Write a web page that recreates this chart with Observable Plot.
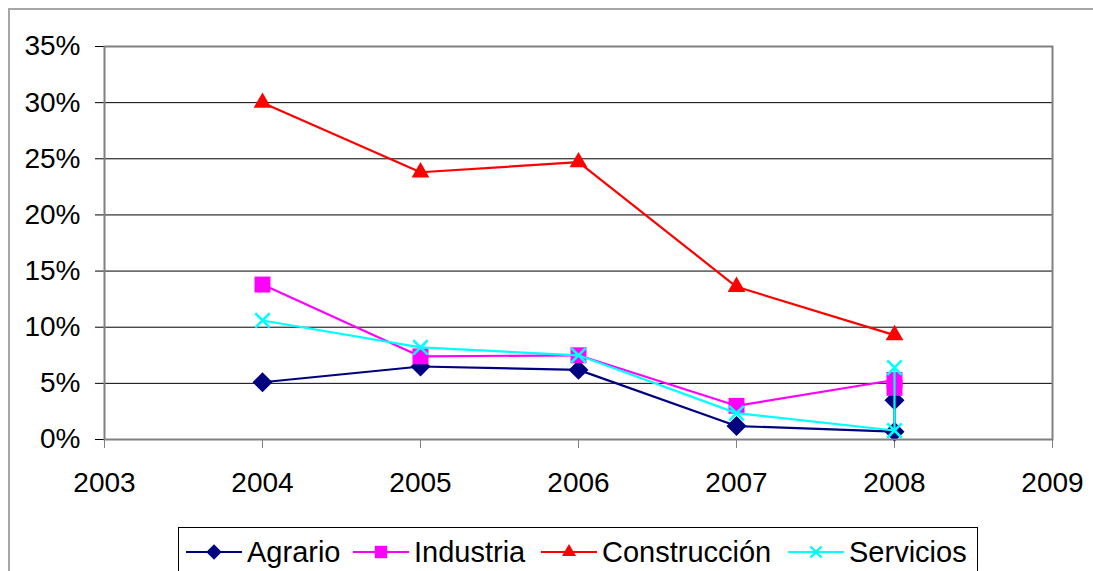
<!DOCTYPE html>
<html><head><meta charset="utf-8">
<script src="https://cdn.jsdelivr.net/npm/d3@7"></script>
<script src="https://cdn.jsdelivr.net/npm/@observablehq/plot@0.6"></script>
<style>
body{margin:0;width:1093px;height:571px;overflow:hidden;background:#fff;font-family:"Liberation Sans",Arial,sans-serif;}
#wrap{position:relative;width:1093px;height:571px;overflow:hidden;}
#frame{position:absolute;left:8px;top:8px;width:1200px;height:620px;border:2px solid #a6a6a6;box-sizing:border-box;}
#chart{position:absolute;left:0;top:0;}
#legend{position:absolute;left:178px;top:527px;width:800px;height:60px;border:1px solid #000;box-sizing:border-box;background:#fff;}
.item{position:absolute;top:8px;height:32px;display:flex;align-items:center;font-size:29px;color:#000;white-space:nowrap;}
.item svg{margin-right:5px;}
</style></head>
<body><div id="wrap"><div id="frame"></div><div id="chart"></div><div id="legend"></div></div>
<script>
// ---- data ----
const years = [2004, 2005, 2006, 2007, 2008, 2008];
const agrario = [5.1, 6.5, 6.2, 1.2, 0.7, 3.5];
const industria = [13.8, 7.4, 7.5, 3.0, 5.3, 4.6];
const construccion = [30.0, 23.8, 24.7, 13.6, 9.3];
const servicios = [10.6, 8.2, 7.5, 2.35, 0.8, 6.4];
const seriesNames = ["Agrario", "Industria", "Construcción", "Servicios"];
const xTicks = [2003, 2004, 2005, 2006, 2007, 2008, 2009];
const yTicks = [0, 5, 10, 15, 20, 25, 30, 35];
const gridTicks = [5, 10, 15, 20, 25, 30];

const seriesValues = [agrario, industria, construccion, servicios];
const styles = [
  {color:"#000080", symbol:"diamond2", r:9, lr:7, filled:true},
  {color:"#ff00ff", symbol:"square", r:9, lr:7, filled:true},
  {color:"#ff0000", symbol:"triangle", r:6.6, lr:5.2, filled:true},
  {color:"#00ffff", symbol:"times", r:6.6, lr:5.2, filled:false}
];
const rows = seriesNames.map((name, i) => seriesValues[i].map((v, j) => ({series:name, year:years[j], value:v})));

const marks = [
  Plot.ruleY(gridTicks, {y: d => d, stroke:"#000", strokeWidth:1}),
  Plot.axisY({ticks:yTicks, tickFormat:d => d + "%", tickSize:9, tickPadding:15, stroke:"#000", fontSize:28, label:null}),
  Plot.axisX({ticks:xTicks, tickFormat:d => String(d), tickSize:9, tickPadding:24, stroke:"#808080", fontSize:28, label:null})
];
rows.forEach((data, i) => {
  const s = styles[i];
  marks.push(Plot.line(data, {x:"year", y:"value", stroke:s.color, strokeWidth:2.2}));
  marks.push(Plot.dot(data, s.filled
    ? {x:"year", y:"value", symbol:s.symbol, r:s.r, fill:s.color, stroke:"none"}
    : {x:"year", y:"value", symbol:s.symbol, r:s.r, fill:"none", stroke:s.color, strokeWidth:2.6}));
});
marks.push(Plot.frame({stroke:"#808080", strokeWidth:2}));

const chart = Plot.plot({
  width:1093, height:520,
  marginLeft:104, marginRight:41, marginTop:46, marginBottom:81,
  x:{domain:[2003, 2009]},
  y:{domain:[0, 35]},
  style:{fontFamily:'"Liberation Sans", Arial, sans-serif', background:"transparent", overflow:"visible", color:"#000"},
  marks
});
document.getElementById("chart").appendChild(chart);

// ---- legend ----
const legend = document.getElementById("legend");
const lefts = [7, 174, 362, 609];
seriesNames.forEach((name, i) => {
  const s = styles[i];
  const item = document.createElement("div");
  item.className = "item";
  item.style.left = lefts[i] + "px";
  const svg = d3.create("svg").attr("width", 56).attr("height", 24);
  svg.append("line").attr("x1", 0).attr("x2", 56).attr("y1", 12).attr("y2", 12).attr("stroke", s.color).attr("stroke-width", 2.2);
  const sym = {diamond2:d3.symbolDiamond2, square:d3.symbolSquare, triangle:d3.symbolTriangle, times:d3.symbolTimes}[s.symbol];
  svg.append("path").attr("transform", "translate(28,12)")
    .attr("d", d3.symbol(sym, Math.PI * s.lr * s.lr)())
    .attr("fill", s.filled ? s.color : "none")
    .attr("stroke", s.filled ? "none" : s.color).attr("stroke-width", 2.2);
  item.appendChild(svg.node());
  const t = document.createElement("span");
  t.textContent = name;
  item.appendChild(t);
  legend.appendChild(item);
});
</script></body></html>
